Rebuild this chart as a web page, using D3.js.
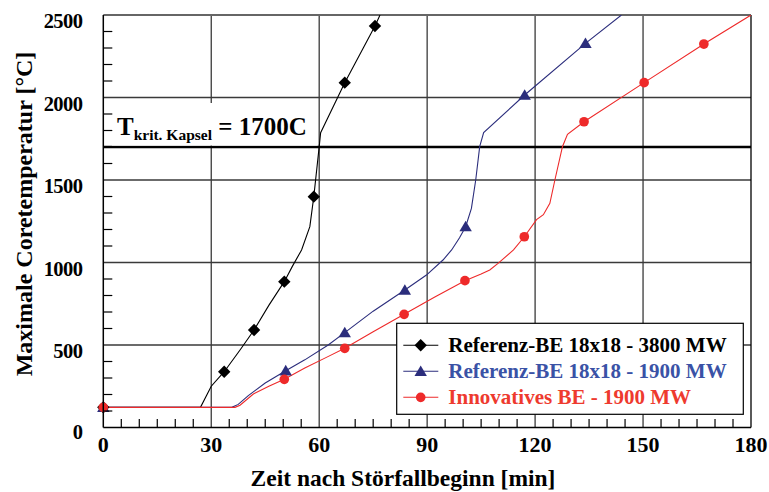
<!DOCTYPE html>
<html>
<head>
<meta charset="utf-8">
<script src="https://cdn.jsdelivr.net/npm/d3@7"></script>
<style>
  body { margin: 0; background: #fff; }
  svg { display: block; }
  text { font-family: "Liberation Serif", "Times New Roman", serif; font-weight: bold; }
</style>
</head>
<body>
<svg></svg>
<script>
// series data: [time (min), temperature (°C)]
const seriesNames = ['Referenz-BE 18x18 - 3800 MW', 'Referenz-BE 18x18 - 1900 MW', 'Innovatives BE - 1900 MW'];

const ref3800Line = [[0,122],[27,122],[30,250],[33.6,338],[38,470],[41.9,591],[46,740],[50.3,884],[52.5,975],
  [55.1,1076],[57.4,1217],[58.5,1399],[60,1702],[60.4,1787],[67.1,2090],[75.5,2433],[76.9,2500]];
const ref3800Marks = [[0,122],[33.6,338],[41.9,591],[50.3,884],[58.5,1399],[67.1,2090],[75.5,2433]];

const ref1900Line = [[0,122],[35.7,122],[37.5,140],[40.3,193],[45,270],[50.7,344],[56,410],[62.5,500],[67.1,575],
  [75,705],[83.8,833],[89.8,924],[94.4,1015],[96.8,1076],[99,1150],[100.7,1217],[102.3,1328],[103.5,1500],
  [104.6,1702],[105.7,1787],[117.1,2015],[134,2328],[144,2500]];
const ref1900Marks = [[0,122],[50.7,344],[67.1,575],[83.8,833],[100.7,1217],[117.1,2015],[134,2328]];

const innoLine = [[0,122],[36.6,122],[38,135],[41.7,203],[46,250],[50.3,292],[56,360],[62,425],[67.1,480],
  [75,580],[83.6,686],[92,790],[100.5,890],[105,930],[107.4,955],[109.7,995],[114,1076],[117,1156],[120.4,1260],
  [122.3,1290],[124.1,1359],[125.5,1500],[127.6,1702],[129,1777],[133.6,1853],[150.3,2090],[166.9,2324],[180,2500]];
const innoMarks = [[0,122],[50.3,292],[67.1,480],[83.6,686],[100.5,890],[117,1156],[133.6,1853],[150.3,2090],[166.9,2324]];

const xTicks = [0, 30, 60, 90, 120, 150, 180];
const yTicks = [0, 500, 1000, 1500, 2000, 2500];
const critTemp = 1700;

const lineColors = ['#000000', '#2b2d7c', '#ee2a2a'];
const textColors = ['#000000', '#3a52a6', '#ee3a2e'];

const width = 769, height = 492;
const margin = { left: 103.3, right: 18, top: 15, bottom: 64.5 };

const svg = d3.select('svg').attr('width', width).attr('height', height);

const x = d3.scaleLinear().domain([0, 180]).range([margin.left, width - margin.right]);
const y = d3.scaleLinear().domain([0, 2500]).range([height - margin.bottom, margin.top]);

svg.append('clipPath').attr('id', 'plot')
  .append('rect')
  .attr('x', x(0)).attr('y', y(2500))
  .attr('width', x(180) - x(0)).attr('height', y(0) - y(2500));

// grid
const grid = svg.append('g').attr('stroke', '#3a3a3a').attr('stroke-width', 1.3);
grid.selectAll('.vg').data(xTicks.slice(1, -1)).enter().append('line')
  .attr('x1', d => x(d)).attr('x2', d => x(d))
  .attr('y1', y(0)).attr('y2', y(2500));
grid.selectAll('.hg').data(yTicks.slice(1, -1)).enter().append('line')
  .attr('x1', x(0)).attr('x2', x(180))
  .attr('y1', d => y(d)).attr('y2', d => y(d));

// frame top/right
svg.append('line').attr('x1', x(0)).attr('x2', x(180)).attr('y1', y(2500)).attr('y2', y(2500))
  .attr('stroke', '#666').attr('stroke-width', 2);
svg.append('line').attr('x1', x(180)).attr('x2', x(180)).attr('y1', y(2500)).attr('y2', y(0))
  .attr('stroke', '#000').attr('stroke-width', 1.3);

// critical temperature line
svg.append('line').attr('x1', x(0)).attr('x2', x(180))
  .attr('y1', y(critTemp)).attr('y2', y(critTemp))
  .attr('stroke', '#000').attr('stroke-width', 2.5);

// label box
svg.append('rect').attr('x', x(2.4)).attr('y', y(critTemp) - 44)
  .attr('width', x(59.5) - x(2.4)).attr('height', 42.5).attr('fill', '#fff');
const lbl = svg.append('text').attr('x', x(3.8)).attr('y', y(critTemp) - 12).attr('font-size', 25);
lbl.append('tspan').text('T');
lbl.append('tspan').attr('font-size', 15.5).attr('dy', 5).text('krit. Kapsel');
lbl.append('tspan').attr('dy', -5).text(' = 1700C');

// curves
const line = d3.line().x(d => x(d[0])).y(d => y(d[1]));
const curves = svg.append('g').attr('clip-path', 'url(#plot)');
[ref3800Line, ref1900Line, innoLine].forEach((data, i) => {
  curves.append('path').datum(data)
    .attr('d', line)
    .attr('fill', 'none')
    .attr('stroke', lineColors[i])
    .attr('stroke-width', 1.1);
});

// marker shapes
function marker(sel, kind, color, s) {
  if (kind === 0) {
    sel.append('path').attr('d', `M0,${-s}L${s},0L0,${s}L${-s},0Z`).attr('fill', color);
  } else if (kind === 1) {
    sel.append('path').attr('d', `M0,${-s * 0.95}L${s},${s * 0.75}L${-s},${s * 0.75}Z`).attr('fill', color);
  } else {
    sel.append('circle').attr('r', s * 0.78).attr('fill', color);
  }
}

[ref3800Marks, ref1900Marks, innoMarks].forEach((data, i) => {
  svg.append('g').selectAll('g').data(data).enter().append('g')
    .attr('transform', d => `translate(${x(d[0])},${y(d[1])})`)
    .each(function () { marker(d3.select(this), i, lineColors[i], 6.2); });
});

// axes
const xAxis = svg.append('g').attr('transform', `translate(0,${y(0)})`);
xAxis.append('line').attr('x1', x(0)).attr('x2', x(180)).attr('stroke', '#000').attr('stroke-width', 1.5);
xAxis.selectAll('.mt').data(d3.range(5, 180, 5).filter(d => d % 30 !== 0)).enter().append('line')
  .attr('x1', d => x(d)).attr('x2', d => x(d)).attr('y1', 0).attr('y2', -8.5)
  .attr('stroke', '#000').attr('stroke-width', 1.2);
xAxis.selectAll('text').data(xTicks).enter().append('text')
  .attr('x', d => x(d)).attr('y', 24).attr('text-anchor', 'middle').attr('font-size', 22)
  .text(d => d);

const yAxis = svg.append('g');
yAxis.append('line').attr('x1', x(0)).attr('x2', x(0)).attr('y1', y(0)).attr('y2', y(2500))
  .attr('stroke', '#000').attr('stroke-width', 1.5);
yAxis.selectAll('.mt').data(d3.range(100, 2500, 100).filter(d => d % 500 !== 0)).enter().append('line')
  .attr('x1', x(0)).attr('x2', x(0) + 9).attr('y1', d => y(d)).attr('y2', d => y(d))
  .attr('stroke', '#000').attr('stroke-width', 1.2);
yAxis.selectAll('text').data(yTicks).enter().append('text')
  .attr('x', x(0) - 21).attr('y', d => y(d) + (d === 0 ? 11 : 13))
  .attr('text-anchor', 'end').attr('font-size', 20.5)
  .attr('letter-spacing', -0.6)
  .text(d => d);

// axis titles
svg.append('text').attr('x', 403).attr('y', 486).attr('text-anchor', 'middle').attr('font-size', 23.5)
  .text('Zeit nach Störfallbeginn [min]');
svg.append('text').attr('transform', 'translate(32,214) rotate(-90)').attr('text-anchor', 'middle')
  .attr('font-size', 24).text('Maximale Coretemperatur [°C]');

// legend
const lg = svg.append('g').attr('transform', 'translate(396.7,323.3)');
lg.append('rect').attr('width', 346.6).attr('height', 91).attr('fill', '#fff')
  .attr('stroke', '#000').attr('stroke-width', 1.2);
seriesNames.forEach((name, i) => {
  const row = lg.append('g').attr('transform', `translate(0,${22 + i * 26})`);
  row.append('line').attr('x1', 6.6).attr('x2', 41.6).attr('stroke', lineColors[i]).attr('stroke-width', 1.1);
  const m = row.append('g').attr('transform', 'translate(24,0)');
  marker(m, i, lineColors[i], 6.2);
  row.append('text').attr('x', 51.6).attr('y', 7).attr('font-size', 21).attr('fill', textColors[i]).text(name);
});
</script>
</body>
</html>
